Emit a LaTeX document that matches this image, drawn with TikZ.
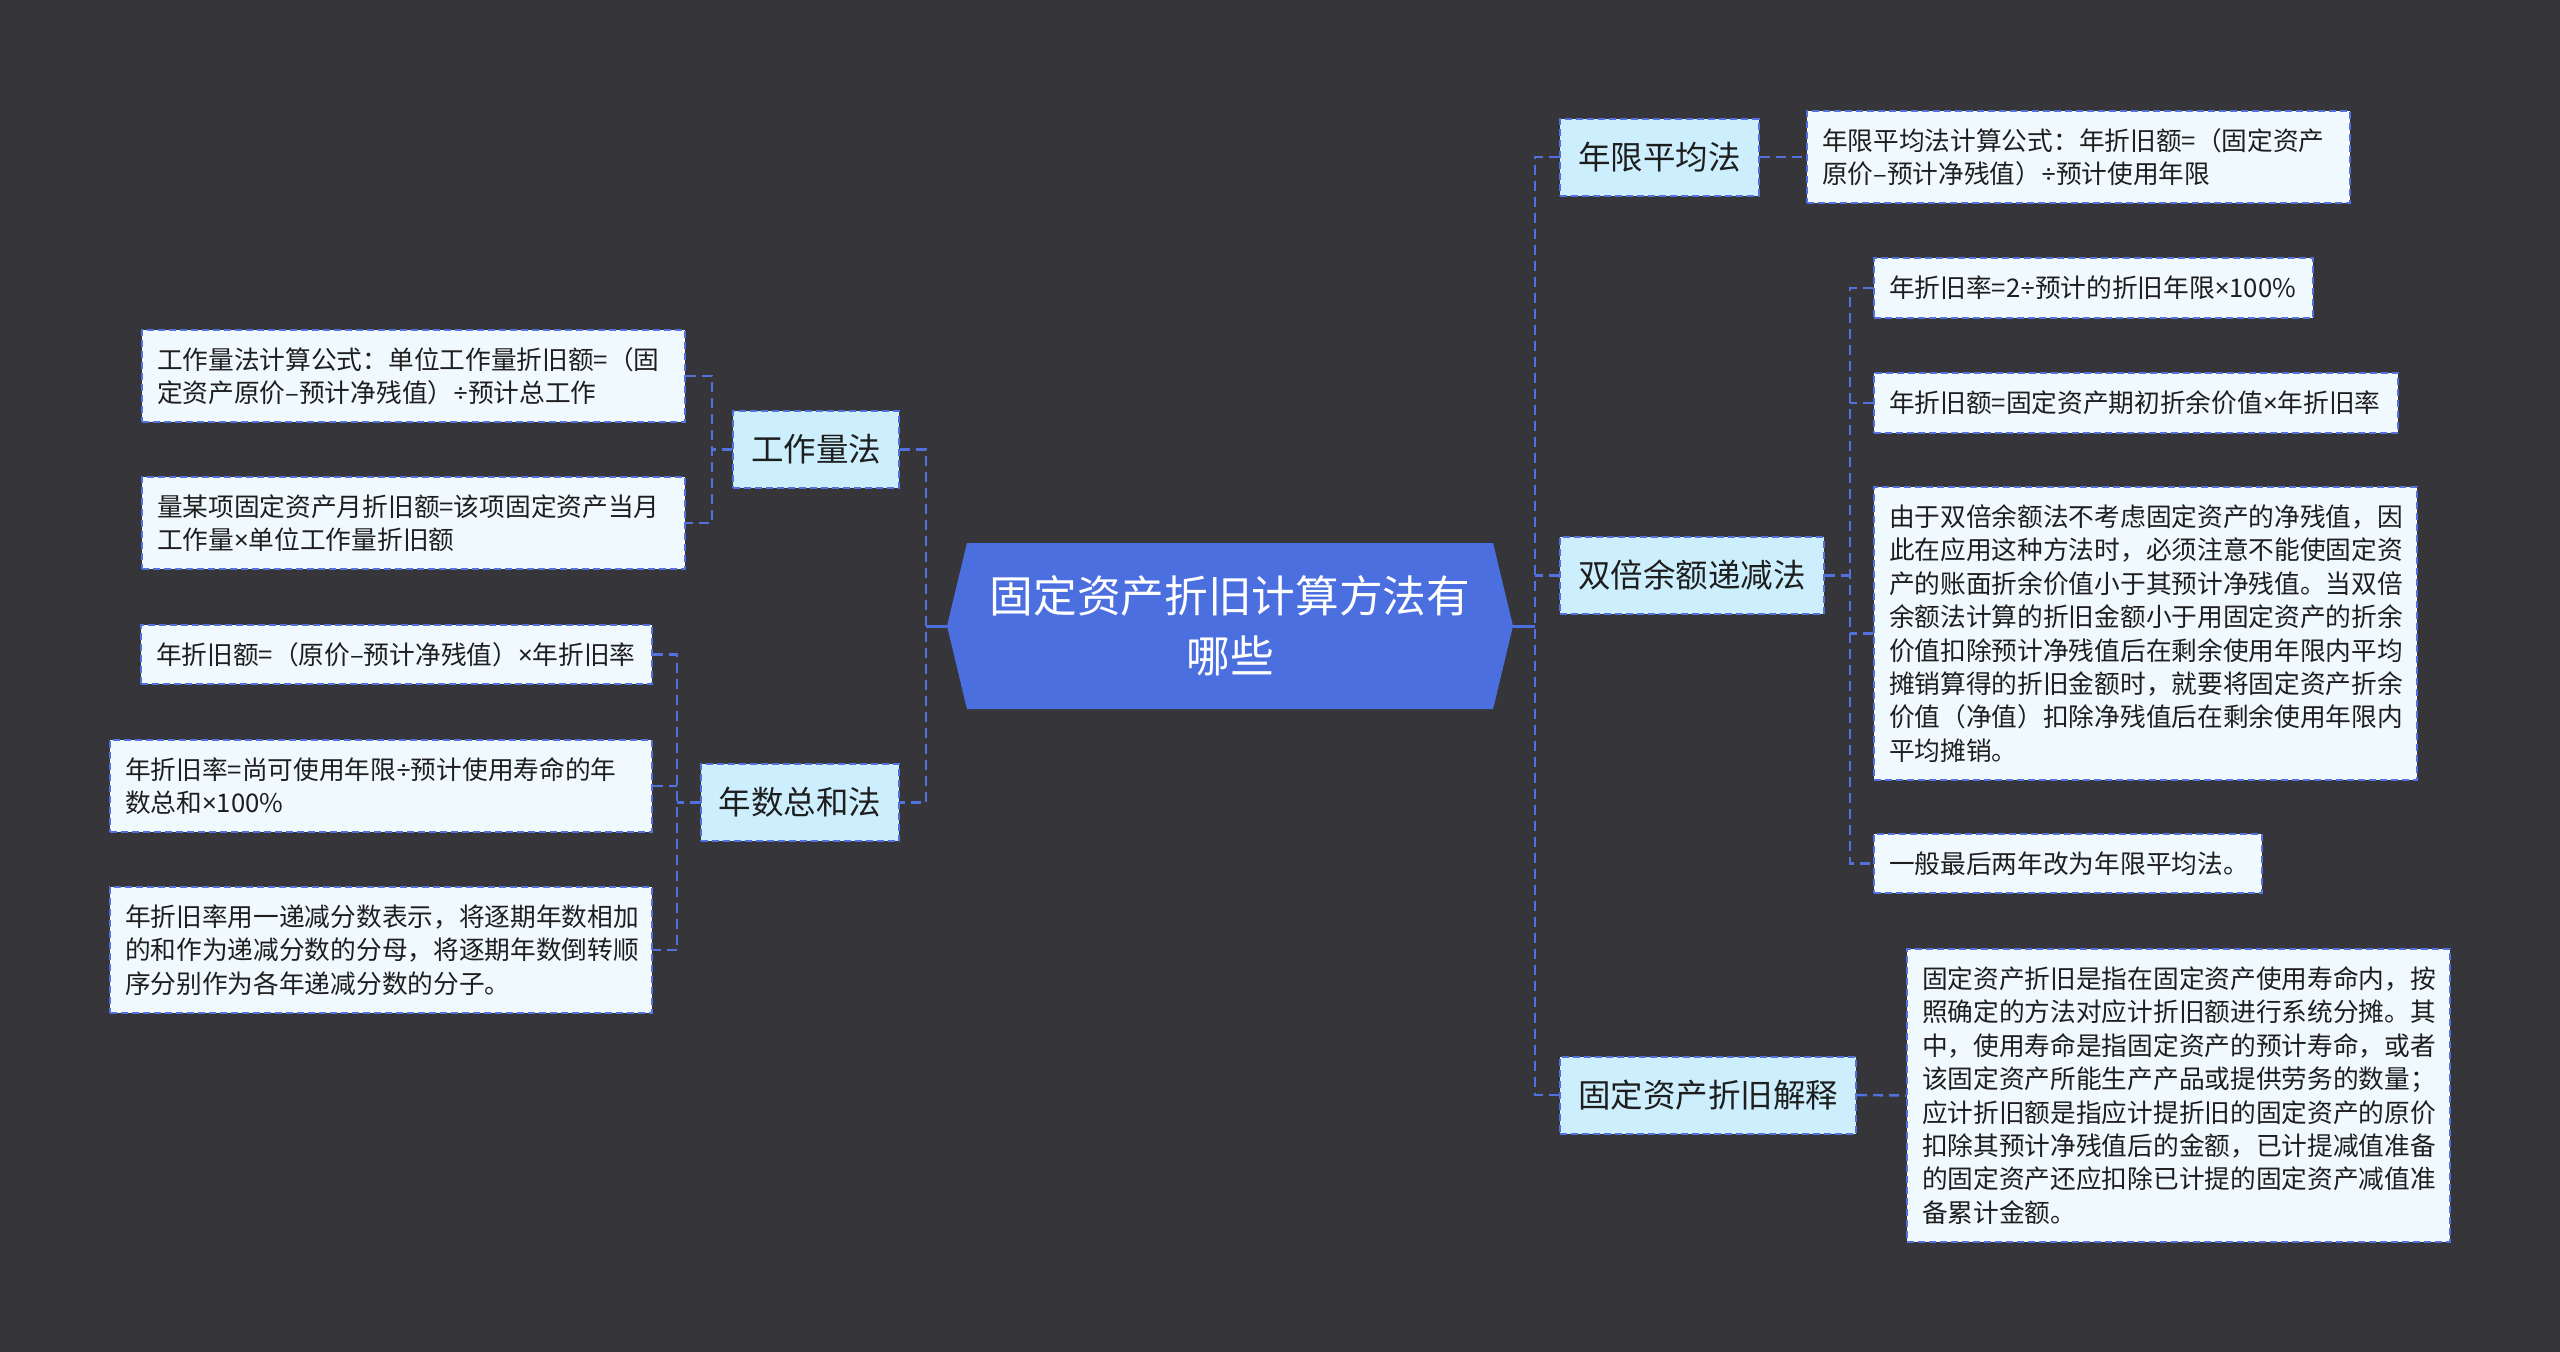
\documentclass[tikz,border=0pt]{standalone}
\usepackage{fontspec}
\setmainfont{Noto Sans CJK SC}
\newfontfamily\latinfont{Noto Sans}
\usetikzlibrary{shapes.symbols}
\definecolor{bgdark}{RGB}{54,53,57}
\definecolor{rootblue}{RGB}{76,111,224}
\definecolor{linkblue}{RGB}{82,113,222}
\definecolor{branchfill}{RGB}{204,238,253}
\definecolor{leaffill}{RGB}{240,250,254}
\definecolor{inkgray}{RGB}{30,30,30}
\newcommand{\leaffont}{\fontsize{25.7pt}{33.4pt}\selectfont}
\newcommand{\branchfont}{\fontsize{32.5pt}{40pt}\selectfont}
\newcommand{\rootfont}{\fontsize{43.7pt}{60pt}\selectfont}
\newcommand{\tms}{{\latinfont ×}}
\newcommand{\dvs}{{\latinfont ÷}}
\begin{document}
\begin{tikzpicture}[x=1pt, y=-1pt,
  topic/.style={shape=signal, signal to=west and east, signal pointer angle=153, fill=rootblue, text=white, align=center, font=\rootfont, minimum width=566pt, minimum height=166pt, inner sep=0pt},
  branch/.style={draw=linkblue, line width=2pt, dash pattern=on 7pt off 4pt, fill=branchfill, text=inkgray, font=\branchfont, inner xsep=18pt, minimum height=77pt},
  leaf/.style={draw=linkblue, line width=2pt, dash pattern=on 7pt off 4pt, fill=leaffill, text=inkgray, font=\leaffont, align=left, inner xsep=15pt, inner ysep=0pt},
  link/.style={draw=linkblue, line width=2.5pt, dash pattern=on 10pt off 6pt},
  stem/.style={draw=rootblue, line width=3pt}]
\fill[bgdark] (0,0) rectangle (2560,1352);
% centre
\node[topic] (root) at (1230,626) {固定资产折旧计算方法有\\哪些};
% main branches
\node[branch, anchor=west] (m1) at (1559,157) {年限平均法};
\node[branch, anchor=west] (m2) at (1559,575.5) {双倍余额递减法};
\node[branch, anchor=west] (m3) at (1559,1095) {固定资产折旧解释};
\node[branch, anchor=east] (m4) at (900,449.5) {工作量法};
\node[branch, anchor=east] (m5) at (900,802.5) {年数总和法};
% leaves, right side
\node[leaf, anchor=west, text width=513pt, minimum height=92pt] (l1) at (1806,157) {年限平均法计算公式：年折旧额=（固定资产\\原价–预计净残值）\dvs 预计使用年限};
\node[leaf, anchor=west, text width=409pt, minimum height=60pt] (l2a) at (1873,288) {\mbox{年折旧率=2\dvs 预计的折旧年限\tms 100\%}};
\node[leaf, anchor=west, text width=494pt, minimum height=60pt] (l2b) at (1873,403) {\mbox{年折旧额=固定资产期初折余价值\tms 年折旧率}};
\node[leaf, anchor=west, text width=513pt, minimum height=293pt] (l2c) at (1873,633.5) {由于双倍余额法不考虑固定资产的净残值，因\\此在应用这种方法时，必须注意不能使固定资\\产的账面折余价值小于其预计净残值。当双倍\\余额法计算的折旧金额小于用固定资产的折余\\价值扣除预计净残值后在剩余使用年限内平均\\摊销算得的折旧金额时，就要将固定资产折余\\价值（净值）扣除净残值后在剩余使用年限内\\平均摊销。};
\node[leaf, anchor=west, text width=358pt, minimum height=59pt] (l2d) at (1873,863.5) {一般最后两年改为年限平均法。};
\node[leaf, anchor=west, text width=513pt, minimum height=293pt] (l3) at (1906,1095.5) {固定资产折旧是指在固定资产使用寿命内，按\\照确定的方法对应计折旧额进行系统分摊。其\\中，使用寿命是指固定资产的预计寿命，或者\\该固定资产所能生产产品或提供劳务的数量；\\应计折旧额是指应计提折旧的固定资产的原价\\扣除其预计净残值后的金额，已计提减值准备\\的固定资产还应扣除已计提的固定资产减值准\\备累计金额。};
% leaves, left side
\node[leaf, anchor=east, text width=513pt, minimum height=92pt] (l4a) at (686,376) {工作量法计算公式：单位工作量折旧额=（固\\定资产原价–预计净残值）\dvs 预计总工作};
\node[leaf, anchor=east, text width=513pt, minimum height=92pt] (l4b) at (686,523) {量某项固定资产月折旧额=该项固定资产当月\\工作量\tms 单位工作量折旧额};
\node[leaf, anchor=east, text width=481pt, minimum height=59pt] (l5a) at (653,654.5) {\mbox{年折旧额=（原价–预计净残值）\tms 年折旧率}};
\node[leaf, anchor=east, text width=512pt, minimum height=92pt] (l5b) at (653,786) {年折旧率=尚可使用年限\dvs 预计使用寿命的年\\数总和\tms 100\%};
\node[leaf, anchor=east, text width=512pt, minimum height=126pt] (l5c) at (653,950) {年折旧率用一递减分数表示，将逐期年数相加\\的和作为递减分数的分母，将逐期年数倒转顺\\序分别作为各年递减分数的分子。};
% bus points
\coordinate (lbus) at (926,626);
\coordinate (rbus) at (1535,626);
\coordinate (m2bus) at (1850,575.5);
\coordinate (m4bus) at (712,449.5);
\coordinate (m5bus) at (677,802.5);
% connectors
\draw[stem] (root.west) -- (lbus);
\draw[stem] (root.east) -- (rbus);
\draw[link] (m1.west) -| (rbus) |- (m3.west);
\draw[link] (m2.west) -- (m2.west -| rbus);
\draw[link] (m4.east) -| (lbus) |- (m5.east);
\draw[link] (m1.east) -- (l1.west);
\draw[link] (m2.east) -- (m2bus);
\draw[link] (l2a.west) -| (m2bus) |- (l2d.west);
\foreach \n in {l2b,l2c} \draw[link] (\n.west) -- (\n.west -| m2bus);
\draw[link] (m3.east) -- (l3.west);
\draw[link] (m4.west) -- (m4bus);
\draw[link] (l4a.east) -| (m4bus) |- (l4b.east);
\draw[link] (m5.west) -- (m5bus);
\draw[link] (l5a.east) -| (m5bus) |- (l5c.east);
\draw[link] (l5b.east) -- (l5b.east -| m5bus);
\end{tikzpicture}
\end{document}
